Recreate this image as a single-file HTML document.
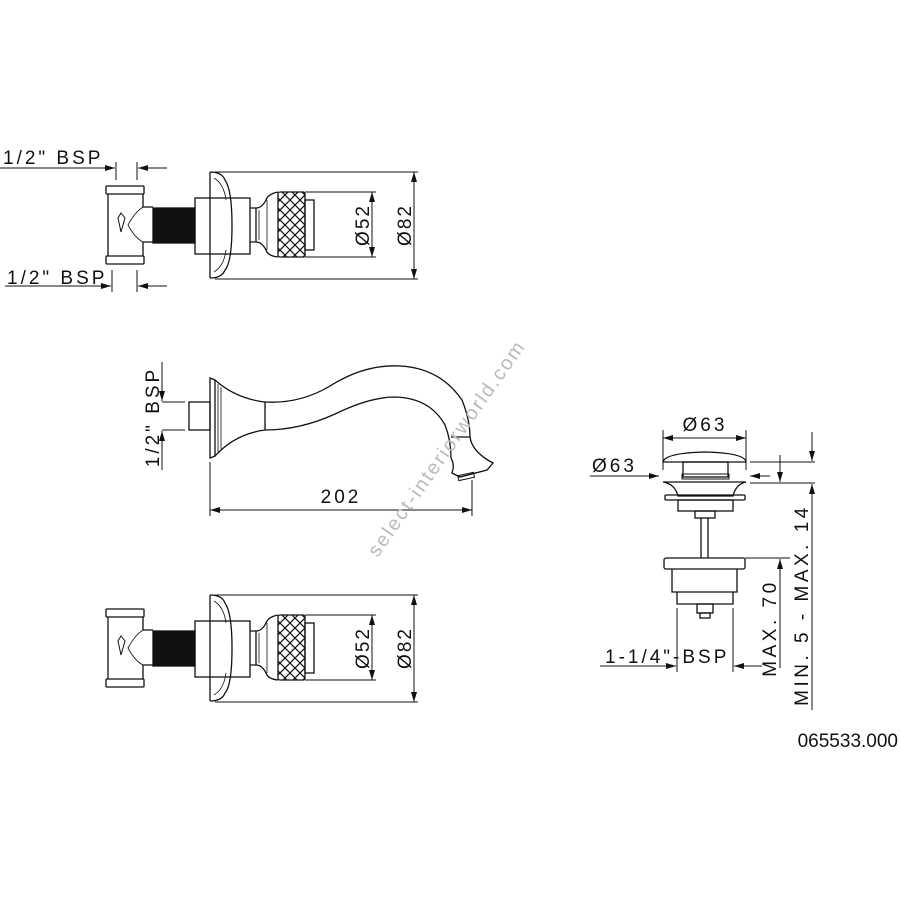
<!DOCTYPE html>
<html><head><style>body{margin:0;background:#fff}svg{display:block}text{font-family:"Liberation Sans",sans-serif;fill:#111}</style></head><body>
<svg width="900" height="900" viewBox="0 0 900 900" xmlns="http://www.w3.org/2000/svg">
<defs>
<pattern id="kn" width="10" height="10" patternUnits="userSpaceOnUse">
<path d="M0 0L10 10M10 0L0 10" stroke="#111" stroke-width="1.2"/>
</pattern>
<marker id="a" viewBox="0 0 10 6" refX="10" refY="3" markerWidth="10" markerHeight="6" orient="auto-start-reverse" markerUnits="userSpaceOnUse"><path d="M0 0L10 3L0 6z" fill="#111"/></marker>
<g id="valve" fill="none" stroke="#111" stroke-width="1.3">
<rect x="106" y="186" width="38" height="8" rx="1"/>
<rect x="106" y="256" width="38" height="8" rx="1"/>
<path d="M108 194V256M143 194V207H153M143 256V242H153"/>
<path d="M143 207Q135 212 128 225Q135 238 143 242" stroke-width="0.8"/>
<path d="M121 213L125 218L121 232L118 218Z" stroke-width="1"/>
<rect x="153" y="208" width="42" height="35" fill="#111"/>
<rect x="195" y="198" width="55" height="56"/>
<path d="M210 172V278M210 172Q222 172 225 180Q232 190 232 225Q232 262 225 270Q222 278 210 278"/>
<path d="M214 178Q224 184 226 200M214 272Q224 266 226 250" stroke-width="0.8"/>
<path d="M250 208H256V242H250M256 208Q262 208 266 200Q268 194 278 192M256 242Q262 242 266 250Q268 256 278 257"/>
<path d="M259 210V240M267 200V250" stroke-width="0.8"/>
<rect x="278" y="192" width="27" height="65" rx="2" fill="url(#kn)"/>
<rect x="305" y="200" width="9" height="50"/>
<path d="M305 192H376M305 257H376M215 172H418M215 279H418" stroke-width="1"/>
<path d="M372 192V257" stroke-width="1" marker-start="url(#a)" marker-end="url(#a)"/>
<path d="M414 172V279" stroke-width="1" marker-start="url(#a)" marker-end="url(#a)"/>
</g>
</defs>
<use href="#valve"/>
<text transform="translate(369,225) rotate(-90)" text-anchor="middle" font-size="19" letter-spacing="2">Ø52</text>
<text transform="translate(411,225) rotate(-90)" text-anchor="middle" font-size="19" letter-spacing="2">Ø82</text>
<use href="#valve" transform="translate(0,423)"/>
<text transform="translate(369,648) rotate(-90)" text-anchor="middle" font-size="19" letter-spacing="2">Ø52</text>
<text transform="translate(411,648) rotate(-90)" text-anchor="middle" font-size="19" letter-spacing="2">Ø82</text>
<g stroke="#111" stroke-width="1" fill="none">
<path d="M0 168H115" marker-end="url(#a)"/><path d="M116 162V180M137 162V180"/><path d="M167 168H138" marker-end="url(#a)"/>
<path d="M5 286H111" marker-end="url(#a)"/><path d="M112 270V292M137 270V292"/><path d="M167 286H138" marker-end="url(#a)"/>
</g>
<text x="3" y="164" font-size="19" letter-spacing="3">1/2" BSP</text>
<text x="7" y="284" font-size="19" letter-spacing="3">1/2" BSP</text>
<g fill="none" stroke="#111" stroke-width="1.3">
<rect x="189" y="402" width="21" height="28"/>
<path d="M210 378V458L215 456V380Z"/>
<path d="M215 380Q235 398 264 402H265V430Q235 434 215 456"/>
<path d="M218 384V452M221 387V449" stroke-width="0.8"/>
<path d="M265 402Q300 404 330 386Q365 364 400 366Q440 368 462 400Q470 420 470 437"/>
<path d="M265 430Q300 430 335 414Q370 397 395 397Q430 398 445 425Q451 440 451 458"/>
<path d="M451 437H470M470 437Q472 452 493 463L487 470L460 477L452 473Q455 465 451 458"/>
<rect x="458" y="474" width="16" height="5" transform="rotate(-12 466 476)" stroke-width="1"/>
</g>
<g stroke="#111" stroke-width="1" fill="none">
<path d="M162 402H185M162 430H185"/>
<path d="M162 362V401" marker-end="url(#a)"/><path d="M162 470V431" marker-end="url(#a)"/>
<path d="M210 462V516M472 480V516"/>
<path d="M210 510H472" marker-start="url(#a)" marker-end="url(#a)"/>
</g>
<text transform="translate(159,417) rotate(-90)" text-anchor="middle" font-size="19" letter-spacing="3">1/2" BSP</text>
<text x="341" y="503" text-anchor="middle" font-size="19" letter-spacing="3">202</text>
<text transform="translate(452,452) rotate(-55)" text-anchor="middle" font-size="20" letter-spacing="2" style="fill:#bbb">select-interiorworld.com</text>
<g fill="none" stroke="#111" stroke-width="1.3">
<path d="M663 462Q665 453 705 452Q745 453 746 462Z"/>
<rect x="683" y="462" width="45" height="15"/>
<rect x="682" y="474" width="47" height="5" stroke-width="1"/>
<path d="M663 482H746Q736 484 733 496H678Q675 484 663 482Z"/>
<rect x="665" y="495" width="80" height="5" rx="1"/>
<rect x="678" y="500" width="55" height="11"/>
<rect x="695" y="511" width="20" height="7"/>
<path d="M701 518V558M708 518V558"/>
<rect x="664" y="558" width="81" height="11" rx="2"/>
<path d="M672 569V592H737V569M677 592V604H733V592"/>
<rect x="697" y="604" width="16" height="9"/><rect x="700" y="613" width="10" height="5"/>
</g>
<g stroke="#111" stroke-width="1" fill="none">
<path d="M663 430V470M746 430V470"/>
<path d="M663 438H746" marker-start="url(#a)" marker-end="url(#a)"/>
<path d="M590 476H659" marker-end="url(#a)"/><path d="M770 476H750" marker-end="url(#a)"/>
<path d="M750 462H815M750 483H815"/>
<path d="M812 432V461" marker-end="url(#a)"/>
<path d="M780 455V482" marker-end="url(#a)"/>
<path d="M812 710V484" marker-end="url(#a)"/>
<path d="M745 558H790"/>
<path d="M780 668V559" marker-end="url(#a)"/>
<path d="M677 608V672M733 608V672"/>
<path d="M600 666H676" marker-end="url(#a)"/><path d="M762 666H734" marker-end="url(#a)"/>
</g>
<text x="705" y="431" text-anchor="middle" font-size="19" letter-spacing="3">Ø63</text>
<text x="592" y="472" font-size="19" letter-spacing="3">Ø63</text>
<text x="605" y="663" font-size="19" letter-spacing="3">1-1/4"-BSP</text>
<text transform="translate(776,628) rotate(-90)" text-anchor="middle" font-size="19" letter-spacing="3.5">MAX. 70</text>
<text transform="translate(808,605) rotate(-90)" text-anchor="middle" font-size="19" letter-spacing="3.5">MIN. 5 - MAX. 14</text>
<text x="898" y="747" text-anchor="end" font-size="19">065533.000</text>
</svg>
</body></html>
